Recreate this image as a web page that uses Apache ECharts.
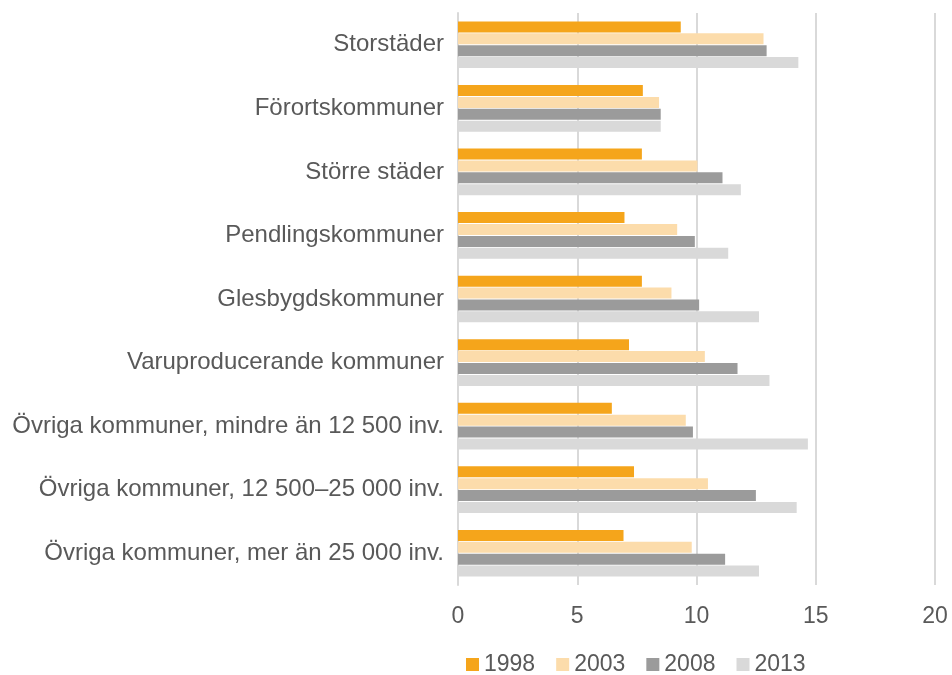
<!DOCTYPE html>
<html>
<head>
<meta charset="utf-8">
<script src="https://cdn.jsdelivr.net/npm/echarts@6/dist/echarts.min.js"></script>
<style>
  html, body { margin: 0; padding: 0; background: #fff; }
  #main { width: 952px; height: 675px; }
</style>
</head>
<body>
<div id="main"></div>
<script>
// kategorier (uppifrån och ned)
var categories = [
  "Storstäder",
  "Förortskommuner",
  "Större städer",
  "Pendlingskommuner",
  "Glesbygdskommuner",
  "Varuproducerande kommuner",
  "Övriga kommuner, mindre än 12 500 inv.",
  "Övriga kommuner, 12 500–25 000 inv.",
  "Övriga kommuner, mer än 25 000 inv."
];
var years = ["1998", "2003", "2008", "2013"];

var data1998 = [9.34, 7.75, 7.71, 6.98, 7.71, 7.17, 6.45, 7.38, 6.94];
var data2003 = [12.81, 8.43, 10.04, 9.19, 8.95, 10.35, 9.55, 10.48, 9.80];
var data2008 = [12.94, 8.50, 11.09, 9.93, 10.11, 11.72, 9.85, 12.49, 11.20];
var data2013 = [14.27, 8.50, 11.86, 11.33, 12.62, 13.06, 14.67, 14.20, 12.62];

var xTicks = [0, 5, 10, 15, 20];

var colors = ["#F5A51B", "#FCDCAB", "#9B9B9B", "#D9D9D9"];
var allData = [data1998, data2003, data2008, data2013];

var chart = echarts.init(document.getElementById("main"));

var series = years.map(function (y, i) {
  return {
    name: y,
    type: "bar",
    data: allData[i],
    barWidth: 11,
    barGap: "8%",
    itemStyle: { color: colors[i] },
    silent: true
  };
});

chart.setOption({
  animation: false,
  textStyle: { fontFamily: "Liberation Sans, Arial, sans-serif" },
  legend: {
    data: years,
    left: 461,
    top: 648,
    itemWidth: 13,
    itemHeight: 13,
    itemGap: 21,
    itemTextGap: 5,
    icon: "rect",
    textStyle: { fontSize: 23, color: "#595959" }
  },
  grid: {
    left: 458,
    right: 17,
    top: 13,
    bottom: 90
  },
  xAxis: {
    type: "value",
    min: xTicks[0],
    max: xTicks[xTicks.length - 1],
    interval: 5,
    axisLine: { show: false },
    axisTick: { show: false },
    splitLine: { lineStyle: { color: "#D9D9D9", width: 2 } },
    axisLabel: { fontSize: 23, color: "#595959", margin: 20 }
  },
  yAxis: {
    type: "category",
    data: categories,
    inverse: true,
    axisTick: { show: false },
    axisLine: { show: true, lineStyle: { color: "#D9D9D9", width: 2 } },
    axisLabel: { fontSize: 24, color: "#595959", margin: 14 }
  },
  series: series
});
</script>
</body>
</html>
